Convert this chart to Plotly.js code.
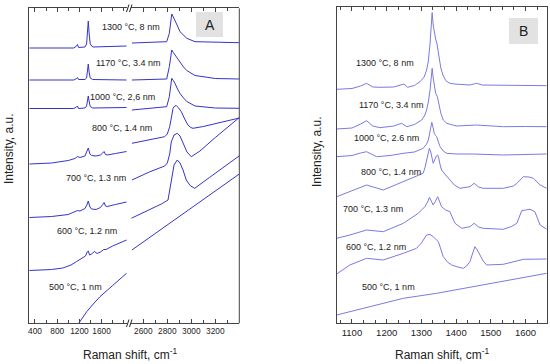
<!DOCTYPE html>
<html><head><meta charset="utf-8">
<script src="https://cdn.plot.ly/plotly-3.0.1.min.js"></script>
<style>body{margin:0;background:#fff}#c{width:550px;height:364px}</style>
</head><body><div id="c"></div>
<script>
// ---------- Data (Raman shift in cm-1, intensity in arbitrary units incl. vertical offset) ----------
const labelsA = ["1300 °C, 8 nm","1170 °C, 3.4 nm","1000 °C, 2,6 nm","800 °C, 1.4 nm","700 °C, 1.3 nm","600 °C, 1.2 nm","500 °C, 1 nm"];
const labelsB = ["1300 °C, 8 nm","1170 °C, 3.4 nm","1000 °C, 2.6 nm","800 °C, 1.4 nm","700 °C, 1.3 nm","600 °C, 1.2 nm","500 °C, 1 nm"];
const ticksAL = [400, 800, 1200, 1600];
const ticksAR = [2600, 2800, 3000, 3200];
const ticksB = [1100, 1200, 1300, 1400, 1500, 1600];

// Panel A, low-wavenumber segment
const aL_w_hi = [300,1100,1150,1165,1185,1300,1330,1345,1360,1375,1395,1440,2050];
const aL_1300 = [276,276,278,279.5,276.5,277,280,292,303,291,280,277,278];
const aL_1170 = [244,244,245.5,246.5,244.5,244.5,246,252,260,252,246,244.5,244];
const aL_1000 = [215.5,215.5,217,218,215.5,216,218,223,228,223,217.5,216,216.5];
const aL_w_mid = [300,700,1000,1120,1165,1210,1300,1335,1360,1390,1420,1500,1580,1620,1645,1670,1700,1850,2050];
const aL_800 = [160,161,163.5,165.5,167.5,166.5,168,172,176,170,168.5,168,169,171,172.5,169.5,169,170.5,172.5];
const aL_700 = [106.5,107.5,109.5,112,113.5,113,115.5,119,123,117,115,114.5,116.5,119.5,121.5,118,117.5,119.5,122];
const aL_w_600 = [300,700,900,1050,1150,1250,1310,1340,1360,1385,1420,1470,1490,1520,1580,1640,1680,1800,2050];
const aL_600 = [53.5,54.5,56,59,62.5,65.5,68,72,73,69,70,72.5,72,70.5,72,74.5,74.5,78,84];
const aL_w_500 = [1180,1260,1332,1450,1571,1800,2050];
const aL_500 = [0,6.5,12.3,20,27.3,38.5,50.7];

// Panel A, high-wavenumber segment
const aR_w_hi = [2505,2700,2795,2817,2828,2837,2850,2864,2885,2906,2935,2962,3031,3200,3400];
const aR_1300 = [281,282,282.3,290.7,301,310,307,304,298,292.3,288.5,285.7,282.3,281.5,281.3];
const aR_1170 = [244,244.5,245,257.3,266,274,271.5,269,265,261.5,257,253.5,248.5,245.5,245];
const aR_1000 = [214,216,217.3,227.3,237,245.7,243.5,240.7,235,230.5,226,222.5,218,216,215.7];
const aR_w_800 = [2505,2650,2778,2800,2820,2835,2848,2862,2875,2895,2917,2945,2972,2995,3014,3100,3250,3400];
const aR_800 = [180.7,184,187.3,190,197.3,207,215.7,218,218.3,216,212.3,205,199,196.5,195.7,197.5,201.5,206];
const aR_w_700 = [2505,2650,2778,2800,2820,2833,2856,2883,2906,2931,2964,3000,3072,3200,3400];
const aR_700 = [144,152,158,161,170,182,189,190.7,188,180.7,172,167.3,173,186.5,206.5];
const aR_w_600 = [2500,2650,2750,2806,2820,2833,2856,2883,2906,2931,2958,2990,3028,3150,3300,3400];
const aR_600 = [105.7,114,120,124,133,144,159,164,161,154,144,138.5,135.7,146.4,159.5,168.2];
const aR_w_500 = [2505,2800,3100,3400];
const aR_500 = [74,99,124,150];

// Panel B
const b_w_1300 = [1056,1100,1125,1142,1160,1181,1220,1240,1250,1260,1280,1296,1308,1315,1320,1325,1328,1331,1334,1337,1341,1345,1350,1356,1362,1370,1380,1395,1440,1459,1475,1536,1600,1661];
const b_1300 = [233.7,234.5,237,239.7,236,235.7,236,238.5,239,235.7,237.5,241.3,246,253,262,279.7,295,310.3,298,290,284,279,268,255,248,242.5,240,239,238,239.7,238,238,237.5,237.3];
const b_w_1170 = [1056,1100,1125,1142,1160,1181,1220,1243,1258,1280,1301,1310,1315,1320,1325,1328,1331,1334,1337,1341,1346,1351,1356,1363,1373,1390,1402,1459,1536,1600,1661];
const b_1170 = [194,195,199,202.3,197,195.3,197,199.7,196.3,198.5,203,208,213,221,233,244,254.7,245,236,230,226.3,218,209.7,203,199.7,198,197,198,196.3,196.5,196.3];
const b_w_1000 = [1056,1100,1125,1142,1171,1210,1248,1280,1305,1315,1320,1325,1330,1334,1337,1341,1344,1349,1354,1363,1373,1400,1450,1536,1600,1661];
const b_1000 = [166.3,167.5,170,171.3,166.3,167.5,169.7,171,174.7,179,183,191,200.7,195,189.7,187.5,186.3,181,176.3,172,169.7,169,169,168,168.5,169];
const b_w_800 = [1056,1094,1142,1190,1238,1286,1300,1305,1310,1315,1319,1323,1327,1330,1334,1338,1343,1347,1350,1354,1358,1370,1382,1395,1411,1440,1452,1465,1478,1536,1565,1575,1594,1610,1623,1642,1661];
const b_800 = [126.3,131.3,138,133,139.7,146.3,148.5,149.7,155,164,171,174.7,171,164,159.7,163,167,168,165,158,153,148,143,138,134.7,136.3,139.7,136,134.7,134.7,137,139.7,146.3,146,144.7,138,134.7];
const b_w_700 = [1056,1094,1142,1190,1248,1291,1310,1318,1323,1328,1334,1340,1347,1352,1358,1370,1382,1390,1397,1416,1440,1452,1465,1478,1536,1560,1575,1582,1589,1600,1613,1627,1635,1642,1661];
const b_700 = [84.7,88,93,91.3,99.7,109.7,116.3,121,125.7,122,118,121.5,126.3,122,116.3,113,111.3,105,99.7,94.7,96.3,99.7,96,94.7,93.7,96.5,99.7,106,112.3,113,113.7,111.3,104,98,93.7];
const b_w_600 = [1056,1094,1142,1190,1248,1286,1300,1315,1325,1334,1349,1356,1363,1375,1387,1405,1421,1430,1440,1447,1454,1461,1469,1478,1488,1536,1594,1661];
const b_600 = [49,58,64.7,63,69.7,74.7,80,88,88.5,86.3,81.3,73,66.3,61,58,56,54.7,57,61.3,69,76.3,73,68,62,58,58.7,63.7,64];
const b_w_500 = [1056,1152,1248,1344,1440,1536,1661];
const b_500 = [8,16.3,24.7,29.7,35.7,41.3,49.7];

// ---------- Build ----------
const W = 550, H = 364;
const px = x => x / W, py = y => 1 - y / H;
const colA = '#3434cc', colB = '#7a7ae2';
const FONT = 'Liberation Sans, Arial, sans-serif';

function tr(x, y, xa, ya, c) {
  return {x: x, y: y, xaxis: xa, yaxis: ya, type: 'scatter', mode: 'lines',
          line: {color: c, width: 1}, hoverinfo: 'skip', showlegend: false};
}
const traces = [
  tr(aL_w_hi, aL_1300, 'x', 'y', colA), tr(aL_w_hi, aL_1170, 'x', 'y', colA), tr(aL_w_hi, aL_1000, 'x', 'y', colA),
  tr(aL_w_mid, aL_800, 'x', 'y', colA), tr(aL_w_mid, aL_700, 'x', 'y', colA), tr(aL_w_600, aL_600, 'x', 'y', colA),
  tr(aL_w_500, aL_500, 'x', 'y', colA),
  tr(aR_w_hi, aR_1300, 'x2', 'y', colA), tr(aR_w_hi, aR_1170, 'x2', 'y', colA), tr(aR_w_hi, aR_1000, 'x2', 'y', colA),
  tr(aR_w_800, aR_800, 'x2', 'y', colA), tr(aR_w_700, aR_700, 'x2', 'y', colA), tr(aR_w_600, aR_600, 'x2', 'y', colA),
  tr(aR_w_500, aR_500, 'x2', 'y', colA),
  tr(b_w_1300, b_1300, 'x3', 'y2', colB), tr(b_w_1170, b_1170, 'x3', 'y2', colB), tr(b_w_1000, b_1000, 'x3', 'y2', colB),
  tr(b_w_800, b_800, 'x3', 'y2', colB), tr(b_w_700, b_700, 'x3', 'y2', colB), tr(b_w_600, b_600, 'x3', 'y2', colB),
  tr(b_w_500, b_500, 'x3', 'y2', colB)
];

const axLine = '#444';
function xax(domain, range, anchor, tickvals, tick0, minorDtick, tfont) {
  return {domain: domain, range: range, anchor: anchor, showgrid: false, zeroline: false,
    showline: true, linecolor: axLine, linewidth: 1, mirror: 'ticks',
    ticks: 'inside', ticklen: 4, tickcolor: axLine, tickmode: 'array', tickvals: tickvals,
    ticktext: tickvals.map(String), tickangle: 0,
    minor: {tickmode: 'linear', dtick: minorDtick, tick0: tick0, ticks: 'inside', ticklen: 3, tickcolor: axLine, showgrid: false},
    tickfont: tfont, ticklabelstandoff: 0, fixedrange: true};
}
const yDomA = [1 - 323.3 / H, 1 - 8.3 / H];
const yDomB = [1 - 323.3 / H, 1 - 6.7 / H];
const fontA = {family: FONT, size: 8.3, color: '#222'};
const fontB = {family: FONT, size: 9.5, color: '#222'};

const layout = {
  width: W, height: H, margin: {l: 0, r: 0, t: 0, b: 0},
  paper_bgcolor: '#fff', plot_bgcolor: 'rgba(0,0,0,0)', showlegend: false,
  xaxis: xax([px(29), px(127)], [292, 2058], 'y', ticksAL, 400, 200, fontA),
  xaxis2: xax([px(131.3), px(239.3)], [2500, 3400], 'y', ticksAR, 2600, 100, fontA),
  xaxis3: xax([px(336.7), px(546.7)], [1056, 1661], 'y2', ticksB, 1100, 100 / 3, fontB),
  yaxis: {domain: yDomA, range: [0.7, 315.7], anchor: 'x', showgrid: false, zeroline: false,
    showline: true, linecolor: axLine, linewidth: 1, ticks: '', showticklabels: false, fixedrange: true},
  yaxis2: {domain: yDomB, range: [-0.3, 316.3], anchor: 'x3', showgrid: false, zeroline: false,
    showline: true, linecolor: axLine, linewidth: 1, mirror: true, ticks: '', showticklabels: false, fixedrange: true},
  shapes: [
    {type: 'line', xref: 'paper', yref: 'paper', x0: px(239.3), x1: px(239.3), y0: yDomA[0], y1: yDomA[1], line: {color: axLine, width: 1}},
    {type: 'line', xref: 'paper', yref: 'paper', x0: px(126.5), y0: py(12), x1: px(129), y1: py(4.5), line: {color: '#222', width: 1}},
    {type: 'line', xref: 'paper', yref: 'paper', x0: px(129.5), y0: py(12), x1: px(132), y1: py(4.5), line: {color: '#222', width: 1}},
    {type: 'line', xref: 'paper', yref: 'paper', x0: px(126.5), y0: py(327), x1: px(129), y1: py(319.5), line: {color: '#222', width: 1}},
    {type: 'line', xref: 'paper', yref: 'paper', x0: px(129.5), y0: py(327), x1: px(132), y1: py(319.5), line: {color: '#222', width: 1}},
    {type: 'rect', xref: 'paper', yref: 'paper', x0: px(196), x1: px(223), y0: py(37), y1: py(12), fillcolor: '#e2e2e2', line: {width: 0}},
    {type: 'rect', xref: 'paper', yref: 'paper', x0: px(509), x1: px(538), y0: py(44), y1: py(18), fillcolor: '#e2e2e2', line: {width: 0}}
  ],
  annotations: []
};

function ann(text, x, y, size, extra) {
  return Object.assign({text: text, xref: 'paper', yref: 'paper', x: px(x), y: py(y),
    xanchor: 'center', yanchor: 'middle', showarrow: false,
    font: {family: FONT, size: size, color: '#222'}}, extra || {});
}
const posA = [[131,27],[128,63],[122,97],[121.5,128],[95.5,178],[87,231],[75,287]];
const posB = [[385,63],[390.5,105],[386.5,138],[390.5,172],[373,209],[376,247],[388.5,287]];
labelsA.forEach((t, i) => layout.annotations.push(ann(t, posA[i][0], posA[i][1], 9)));
labelsB.forEach((t, i) => layout.annotations.push(ann(t, posB[i][0], posB[i][1], 9)));
layout.annotations.push(ann('A', 209.5, 25, 14));
layout.annotations.push(ann('B', 523.5, 31, 14));
layout.annotations.push(ann('Raman shift, cm<sup>-1</sup>', 130, 354, 12));
layout.annotations.push(ann('Raman shift, cm<sup>-1</sup>', 442, 354, 12));
layout.annotations.push(ann('Intensity, a.u.', 9, 149, 12, {textangle: -90}));
layout.annotations.push(ann('Intensity, a.u.', 317, 152, 12, {textangle: -90}));

Plotly.newPlot('c', traces, layout, {staticPlot: true, displayModeBar: false});
</script></body></html>
